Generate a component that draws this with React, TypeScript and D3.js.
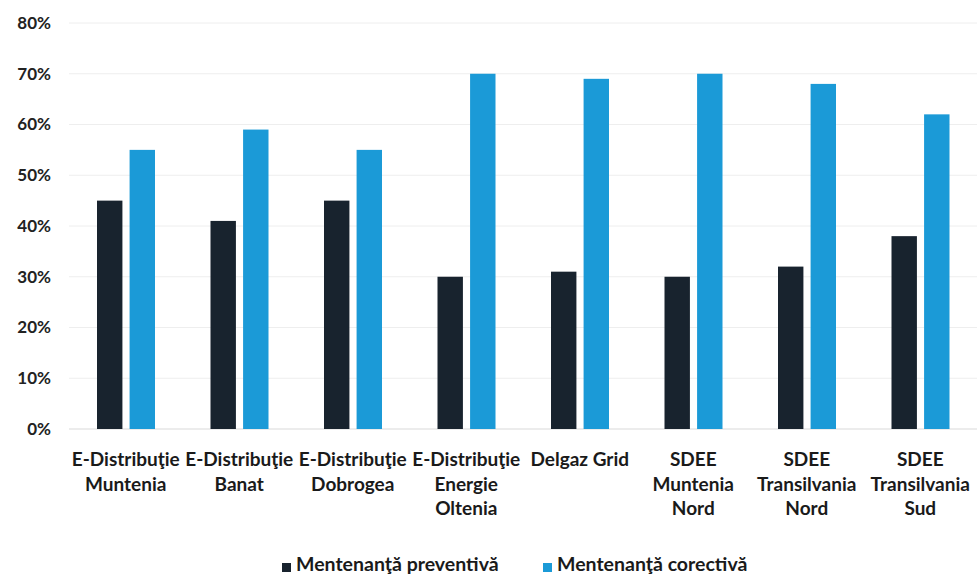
import React from "react";
import * as d3 from "d3";

const categories: string[][] = [
  ["E-Distribuţie", "Muntenia"],
  ["E-Distribuţie", "Banat"],
  ["E-Distribuţie", "Dobrogea"],
  ["E-Distribuţie", "Energie", "Oltenia"],
  ["Delgaz Grid"],
  ["SDEE", "Muntenia", "Nord"],
  ["SDEE", "Transilvania", "Nord"],
  ["SDEE", "Transilvania", "Sud"],
];
const preventiva = [45, 41, 45, 30, 31, 30, 32, 38];
const corectiva = [55, 59, 55, 70, 69, 70, 68, 62];
const yTicks = [0, 10, 20, 30, 40, 50, 60, 70, 80];
const seriesNames = ["Mentenanţă preventivă", "Mentenanţă corectivă"];
const colors = ["#18232e", "#1b9ad7"];

const W = 979;
const H = 576;
const FONT = "Lato, 'Open Sans', sans-serif";

export default function App() {
  const left = 69;
  const right = 977;
  const y = d3.scaleLinear().domain([0, 80]).range([429, 23]);
  const x0 = d3
    .scaleBand<number>()
    .domain(d3.range(categories.length))
    .range([left, right])
    .paddingInner(0)
    .paddingOuter(0);
  const x1 = d3
    .scaleBand<number>()
    .domain([0, 1])
    .range([28, 86])
    .paddingInner(0.22);
  const series = [preventiva, corectiva];

  return (
    <svg
      width={W}
      height={H}
      style={{ position: "absolute", left: 0, top: 0, display: "block", background: "#fff" }}
      fontFamily={FONT}
    >
      {yTicks.map((t) => (
        <g key={t}>
          <line x1={left} x2={right} y1={y(t)} y2={y(t)} stroke={t === 0 ? "#d9d9d9" : "#eeeeee"} strokeWidth={1} />
          <text x={51} y={y(t)} dy="0.35em" textAnchor="end" fontSize={17} fontWeight={700} fill="#222">
            {t}%
          </text>
        </g>
      ))}
      {series.map((vals, si) =>
        vals.map((v, i) => (
          <rect
            key={si + "-" + i}
            x={(x0(i) as number) + (x1(si) as number)}
            y={y(v)}
            width={x1.bandwidth()}
            height={y(0) - y(v)}
            fill={colors[si]}
          />
        ))
      )}
      {categories.map((lines, i) => (
        <text
          key={i}
          x={(x0(i) as number) + x0.bandwidth() / 2}
          y={466}
          textAnchor="middle"
          fontSize={19}
          fontWeight={700}
          fill="#1a1a1a"
        >
          {lines.map((l, j) => (
            <tspan key={j} x={(x0(i) as number) + x0.bandwidth() / 2} dy={j === 0 ? 0 : 24.5}>
              {l}
            </tspan>
          ))}
        </text>
      ))}
      {seriesNames.map((name, si) => {
        const lx = si === 0 ? 282 : 543;
        return (
          <g key={name}>
            <rect x={lx} y={563} width={9} height={9} fill={colors[si]} />
            <text x={lx + 14} y={571} fontSize={19.5} fontWeight={700} fill="#1a1a1a">
              {name}
            </text>
          </g>
        );
      })}
    </svg>
  );
}
